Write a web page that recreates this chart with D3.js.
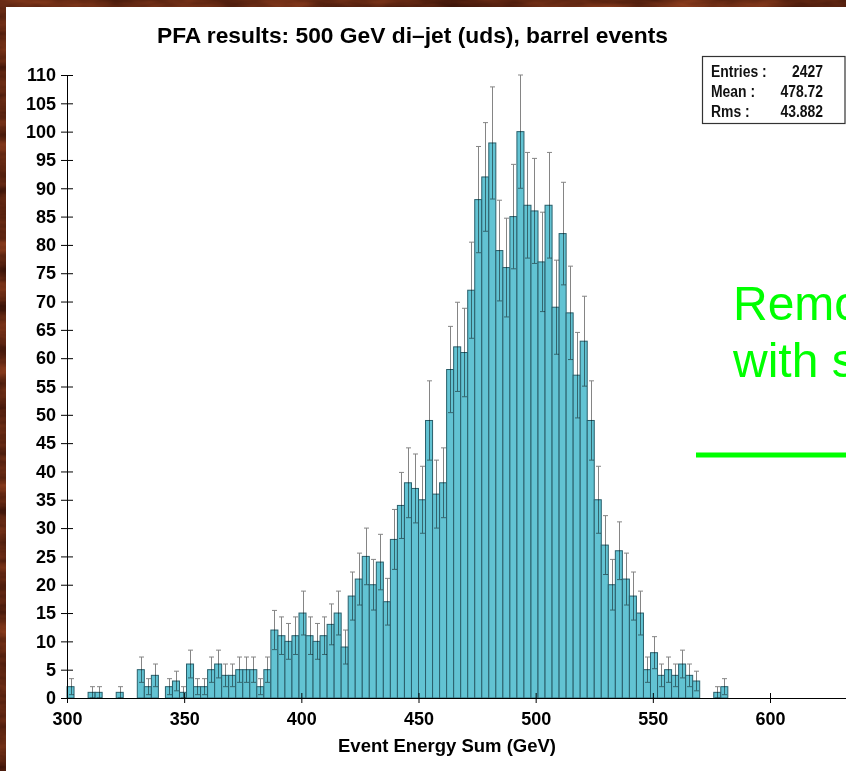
<!DOCTYPE html>
<html>
<head>
<meta charset="utf-8">
<script src="https://cdn.jsdelivr.net/npm/d3@7"></script>
<style>
  html, body { margin: 0; padding: 0; background: #5e2614; overflow: hidden; }
  svg { display: block; }
</style>
</head>
<body>
<svg id="chart" width="846" height="771"></svg>
<script>
// ---------------- DATA ----------------
const binStart = 300;          // GeV, lower edge of first bin
const binWidth = 3;            // GeV per bin
const counts = [
  2, 0, 0, 1, 1, 0, 0, 1, 0, 0,
  5, 2, 4, 0, 2, 3, 1, 6, 2, 2,
  5, 6, 4, 4, 5, 5, 5, 2, 5, 12,
  11, 10, 11, 15, 11, 10, 11, 13, 15, 9,
  18, 21, 25, 20, 24, 17, 28, 34, 38, 37,
  35, 49, 36, 38, 58, 62, 61, 72, 88, 92,
  98, 79, 76, 85, 100, 87, 86, 77, 87, 69,
  82, 68, 57, 63, 49, 35, 27, 20, 26, 21,
  18, 15, 5, 8, 4, 5, 4, 6, 4, 3,
  0, 0, 1, 2
];
const xTickValues = [300, 350, 400, 450, 500, 550, 600];
const yTickValues = [0, 5, 10, 15, 20, 25, 30, 35, 40, 45, 50, 55, 60, 65, 70, 75, 80, 85, 90, 95, 100, 105, 110];
const titleText = "PFA results: 500 GeV di\u2013jet (uds), barrel events";
const xTitle = "Event Energy Sum (GeV)";
const statLabels = ["Entries :", "Mean :", "Rms :"];
const statValues = ["2427", "478.72", "43.882"];
const sideLines = ["Remo", "with s"];

// ---------------- LAYOUT ----------------
const W = 846, H = 771;
const svg = d3.select("#chart");

// textured slide background
const defs = svg.append("defs");
const f = defs.append("filter").attr("id", "tex").attr("x", 0).attr("y", 0).attr("width", 1).attr("height", 1)
  .attr("color-interpolation-filters", "sRGB");
f.append("feTurbulence").attr("type", "fractalNoise").attr("baseFrequency", "0.012 0.05")
  .attr("numOctaves", 4).attr("seed", 7).attr("result", "n");
f.append("feColorMatrix").attr("in", "n").attr("type", "matrix")
  .attr("values", "0.55 0 0 0 0.10  0.28 0 0 0 0.01  0.14 0 0 0 0.0  0 0 0 0 1");
svg.append("rect").attr("width", W).attr("height", H).attr("filter", "url(#tex)");

// white panel
svg.append("rect").attr("x", 6).attr("y", 7).attr("width", W - 6).attr("height", H - 7).attr("fill", "#ffffff");

const x = d3.scaleLinear().domain([300, 600]).range([67, 770]);
const y = d3.scaleLinear().domain([0, 110]).range([698, 75]);

const bins = counts.map((c, i) => ({ x0: binStart + i * binWidth, x1: binStart + (i + 1) * binWidth, n: c }));
const filled = bins.filter(d => d.n > 0);

// bars
svg.append("g").selectAll("rect").data(filled).join("rect")
  .attr("x", d => x(d.x0))
  .attr("y", d => y(d.n))
  .attr("width", d => x(d.x1) - x(d.x0))
  .attr("height", d => y(0) - y(d.n))
  .attr("fill", "#62c3d3")
  .attr("stroke", "#2a5f6b")
  .attr("stroke-width", 1);

// error bars
const eg = svg.append("g").style("mix-blend-mode", "multiply")
  .attr("stroke", "#858585").attr("stroke-width", 1).attr("fill", "none");
filled.forEach(d => {
  const cx = Math.round(x((d.x0 + d.x1) / 2)) + 0.5;
  const e = Math.sqrt(d.n);
  const hi = y(d.n + e), lo = y(Math.max(0, d.n - e));
  eg.append("line").attr("x1", cx).attr("x2", cx).attr("y1", hi).attr("y2", lo);
  eg.append("line").attr("x1", cx - 2.5).attr("x2", cx + 2.5).attr("y1", hi).attr("y2", hi);
  eg.append("line").attr("x1", cx - 2.5).attr("x2", cx + 2.5).attr("y1", lo).attr("y2", lo);
});

// axes
const tickFont = "'Liberation Sans', Arial, Helvetica, sans-serif";
const yAxis = svg.append("g").attr("transform", `translate(${x(300)},0)`)
  .call(d3.axisLeft(y).tickValues(yTickValues).tickSize(6).tickPadding(8));
yAxis.select(".domain").attr("stroke", "#000");
yAxis.selectAll(".tick line").attr("x1", 6).attr("x2", -6).attr("stroke", "#000");
yAxis.selectAll(".tick text").attr("font-family", tickFont).attr("font-weight", "bold")
  .attr("font-size", 18).attr("fill", "#000").attr("x", -11);

const xAxis = svg.append("g").attr("transform", `translate(0,${y(0)})`)
  .call(d3.axisBottom(x).tickValues(xTickValues).tickSize(5).tickPadding(9));
xAxis.select(".domain").remove();
xAxis.append("line").attr("x1", x(300)).attr("x2", W).attr("y1", 0.5).attr("y2", 0.5).attr("stroke", "#000");
xAxis.selectAll(".tick line").attr("y1", -5).attr("y2", 5).attr("stroke", "#000");
xAxis.selectAll(".tick text").attr("font-family", tickFont).attr("font-weight", "bold")
  .attr("font-size", 18).attr("fill", "#000");

// titles
const narrow = "'Liberation Sans Narrow', 'Arial Narrow', 'Liberation Sans', Arial, sans-serif";
svg.append("text").attr("x", 157).attr("y", 43).text(titleText)
  .attr("font-family", narrow).attr("font-size", 22).attr("font-weight", "bold").attr("fill", "#000")
  .attr("textLength", 511).attr("lengthAdjust", "spacingAndGlyphs");
svg.append("text").attr("x", 338).attr("y", 752).text(xTitle)
  .attr("font-family", narrow).attr("font-size", 18).attr("font-weight", "bold").attr("fill", "#000")
  .attr("textLength", 218).attr("lengthAdjust", "spacingAndGlyphs");

// stats box
svg.append("rect").attr("x", 702.5).attr("y", 56.5).attr("width", 142.5).attr("height", 67)
  .attr("fill", "#fff").attr("stroke", "#333").attr("stroke-width", 1.2);
const sg = svg.append("g").attr("font-family", narrow).attr("font-size", 17)
  .attr("font-weight", "bold").attr("fill", "#111");
statLabels.forEach((s, i) => {
  const yy = 77 + i * 20;
  sg.append("g").attr("transform", `translate(711,${yy}) scale(0.82,1)`).append("text").text(s);
  sg.append("g").attr("transform", `translate(823,${yy}) scale(0.82,1)`).append("text")
    .attr("text-anchor", "end").text(statValues[i]);
});

// green overlay text and line (slide annotation, cut by the slide edge)
const gg = svg.append("g").attr("fill", "#00ff00").attr("font-family", "'Liberation Sans', Arial, sans-serif")
  .attr("font-size", 48);
sideLines.forEach((s, i) => gg.append("text").attr("x", 733).attr("y", 320 + i * 57).text(s));
svg.append("line").attr("x1", 696).attr("x2", W).attr("y1", 455).attr("y2", 455)
  .attr("stroke", "#00ff00").attr("stroke-width", 5);
</script>
</body>
</html>
